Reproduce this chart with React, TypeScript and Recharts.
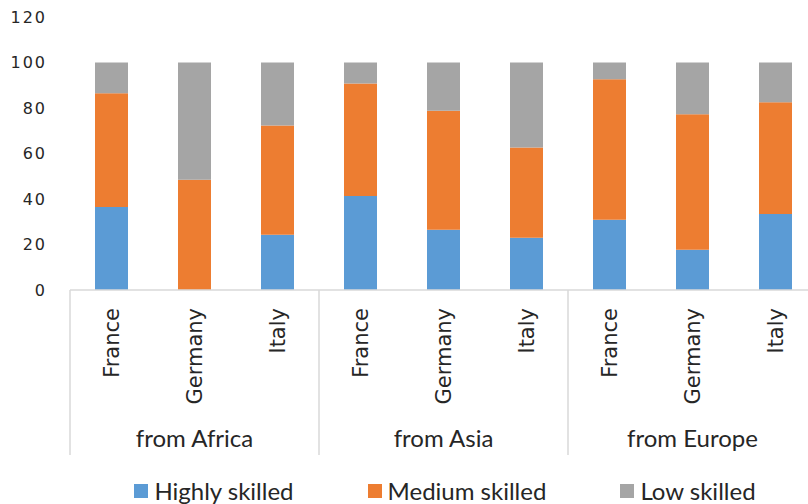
import { BarChart, Bar, XAxis, YAxis, Legend } from 'recharts'

const groups = ['from Africa', 'from Asia', 'from Europe']
const countries = ['France', 'Germany', 'Italy']
const highly = [36.5, 0, 24.3, 41.3, 26.5, 23, 30.9, 17.7, 33.4]
const medium = [50, 48.5, 48, 49.5, 52.3, 39.6, 61.7, 59.5, 49.1]
const low = [13.5, 51.5, 27.7, 9.2, 21.2, 37.4, 7.4, 22.8, 17.5]
const yTicks = [0, 20, 40, 60, 80, 100, 120]

const SERIES = [
  { key: 'highly', name: 'Highly skilled', color: '#5b9bd5' },
  { key: 'medium', name: 'Medium skilled', color: '#ed7d31' },
  { key: 'low', name: 'Low skilled', color: '#a5a5a5' },
]

const data = groups.flatMap((g, gi) =>
  countries.map((c, ci) => {
    const i = gi * 3 + ci
    return { id: `${g}|${c}`, group: g, country: c, highly: highly[i], medium: medium[i], low: low[i] }
  })
)

const W = 830
const H = 504
const Y_W = 70
const M_RIGHT = 13
const CAT_H = 125
const GRP_H = 45
const LEG_H = 44
const GROUP_W = (W - Y_W - M_RIGHT) / groups.length
const LINE = '#d9d9d9'
const TXT = '#262626'
const FONT = 'DejaVu Sans, sans-serif'
const FONT2 = 'Lato, sans-serif'

function CatTick(props: any) {
  const { x, y, payload } = props
  const label = String(payload.value).split('|')[1]
  return (
    <text x={x} y={y + 16} dy="0.36em" transform={`rotate(-90, ${x}, ${y + 16})`}
      textAnchor="end" fontSize={21} fill={TXT} fontFamily={FONT}>
      {label}
    </text>
  )
}

function GroupTick(props: any) {
  const { x, y, payload } = props
  const left = x - GROUP_W / 2
  return (
    <g>
      <line x1={left} x2={left} y1={y - CAT_H} y2={y + 40} stroke={LINE} strokeWidth={1.5} />
      <text x={x} y={y + 32} textAnchor="middle" fontSize={24} fill={TXT} fontFamily={FONT2}>
        {payload.value}
      </text>
    </g>
  )
}

function LegendContent() {
  return (
    <div style={{ display: 'flex', justifyContent: 'center', gap: 74, paddingLeft: Y_W + 16, paddingRight: M_RIGHT, paddingTop: 17, height: LEG_H, boxSizing: 'border-box' }}>
      {SERIES.map(s => (
        <div key={s.key} style={{ display: 'flex', alignItems: 'center', fontFamily: FONT2, fontSize: 24, color: TXT, lineHeight: '24px' }}>
          <span style={{ width: 14, height: 14, background: s.color, display: 'inline-block', marginRight: 6 }} />
          {s.name}
        </div>
      ))}
    </div>
  )
}

export default function App() {
  return (
    <div style={{ position: 'absolute', left: 0, top: 0, width: 808, height: H, overflow: 'hidden', background: '#fff' }}>
      <BarChart width={W} height={H} data={data} margin={{ top: 17, right: M_RIGHT, bottom: 0, left: 0 }}>
        <YAxis domain={[0, 120]} ticks={yTicks} width={Y_W} axisLine={false} tickLine={false}
          tickSize={0} tickMargin={23} interval={0}
          tick={{ fontSize: 16, fill: TXT, fontFamily: FONT, letterSpacing: 2 }} />
        <XAxis dataKey="id" interval={0} height={CAT_H} tickLine={false} tickSize={0}
          axisLine={{ stroke: LINE, strokeWidth: 1.5 }} tick={<CatTick />} />
        <XAxis xAxisId="grp" dataKey="group" allowDuplicatedCategory={false} interval={0}
          height={GRP_H} axisLine={false} tickLine={false} tickSize={0} tickMargin={0} tick={<GroupTick />} />
        <Legend verticalAlign="bottom" height={LEG_H} content={<LegendContent />} />
        {SERIES.map(s => (
          <Bar key={s.key} dataKey={s.key} name={s.name} stackId="a" fill={s.color} barSize={33} isAnimationActive={false} />
        ))}
      </BarChart>
    </div>
  )
}
